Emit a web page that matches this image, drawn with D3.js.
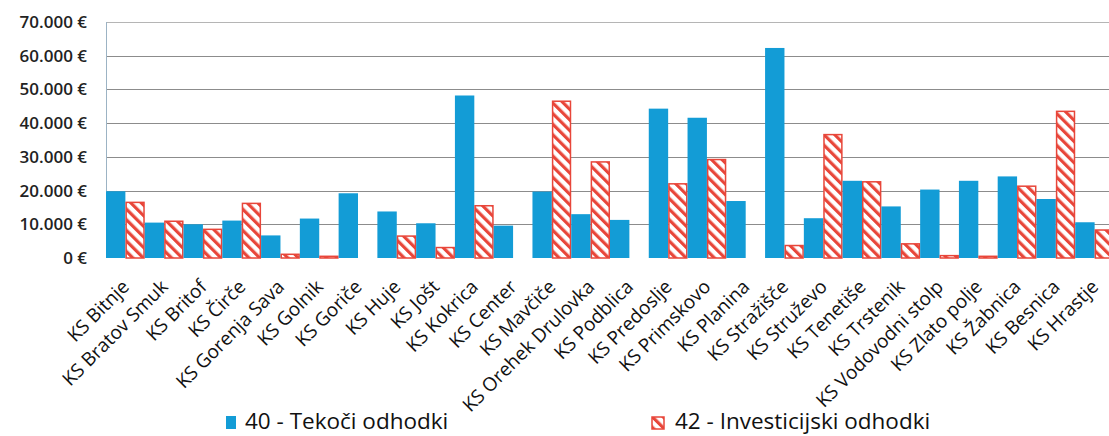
<!DOCTYPE html>
<html>
<head>
<meta charset="utf-8">
<script src="https://cdn.jsdelivr.net/npm/d3@7"></script>
<style>
  body { margin: 0; background: #fff; }
  svg { display: block; font-family: "Open Sans", sans-serif; }
</style>
</head>
<body>
<svg width="1109" height="436"></svg>
<script>
// categories (KS = krajevna skupnost)
var categories = ["KS Bitnje", "KS Bratov Smuk", "KS Britof", "KS Čirče", "KS Gorenja Sava",
    "KS Golnik", "KS Goriče", "KS Huje", "KS Jošt", "KS Kokrica", "KS Center", "KS Mavčiče",
    "KS Orehek Drulovka", "KS Podblica", "KS Predoslje", "KS Primskovo", "KS Planina",
    "KS Stražišče", "KS Struževo", "KS Tenetiše", "KS Trstenik", "KS Vodovodni stolp",
    "KS Zlato polje", "KS Žabnica", "KS Besnica", "KS Hrastje"];

// 40 - Tekoči odhodki
var tekoci = [19800, 10500, 10000, 11100, 6700, 11700, 19200, 13800, 10300, 48200, 9600, 19700,
    13000, 11300, 44300, 41600, 16900, 62300, 11800, 22900, 15300, 20300, 22900, 24200,
    17500, 10600];

// 42 - Investicijski odhodki
var investicijski = [16500, 10900, 8500, 16200, 1100, 500, 0, 6500, 3100, 15500, 0, 46500,
    28500, 0, 22000, 29200, 0, 3700, 36600, 22600, 4200, 700, 500, 21300, 43500, 8300];

var yTicks = [0, 10000, 20000, 30000, 40000, 50000, 60000, 70000];
var seriesNames = ["40 - Tekoči odhodki", "42 - Investicijski odhodki"];

var blue = "#139cd6", red = "#e8463a";

var svg = d3.select("svg");

var x = d3.scaleBand().domain(categories).range([106, 1114]).paddingInner(0).paddingOuter(0);
var xs = d3.scaleBand().domain([0, 1]).range([0, x.bandwidth()]).padding(0);
var y = d3.scaleLinear().domain([0, 70000]).range([258, 22]);

var defs = svg.append("defs");
var pat = defs.append("pattern")
    .attr("id", "hatch")
    .attr("patternUnits", "userSpaceOnUse")
    .attr("width", 7.5).attr("height", 7.5)
    .attr("patternTransform", "rotate(-45)");
pat.append("rect").attr("width", 7.5).attr("height", 7.5).attr("fill", "#fff");
pat.append("rect").attr("width", 3.2).attr("height", 7.5).attr("fill", red);

// gridlines
svg.append("g")
    .selectAll("line")
    .data(yTicks.slice(1))
    .join("line")
    .attr("x1", 106).attr("x2", 1109)
    .attr("y1", function (d) { return Math.round(y(d)) + 0.5; })
    .attr("y2", function (d) { return Math.round(y(d)) + 0.5; })
    .attr("stroke", function (d) { return d == 70000 ? "#b5b5b5" : "#8c8c8c"; })
    .attr("stroke-width", 1);

// left axis line
svg.append("line")
    .attr("x1", 106.5).attr("x2", 106.5)
    .attr("y1", y(70000)).attr("y2", y(0))
    .attr("stroke", "#9cb3c4");

// y labels
svg.append("g")
    .selectAll("text")
    .data(yTicks)
    .join("text")
    .attr("x", 87)
    .attr("y", function (d) { return y(d) + 6; })
    .attr("text-anchor", "end")
    .attr("font-size", 17)
    .attr("font-weight", 600)
    .attr("fill", "#222")
    .text(function (d) { return d3.format(",")(d).replace(/,/g, ".") + " €"; });

// bars
var groups = svg.append("g")
    .selectAll("g")
    .data(categories)
    .join("g")
    .attr("transform", function (d) { return "translate(" + x(d) + ",0)"; });

groups.append("rect")
    .attr("x", xs(0))
    .attr("width", xs.bandwidth())
    .attr("y", function (d, i) { return y(tekoci[i]); })
    .attr("height", function (d, i) { return y(0) - y(tekoci[i]); })
    .attr("fill", blue);

groups.filter(function (d, i) { return investicijski[i] > 0; })
    .append("rect")
    .attr("x", function () { return xs(1) + 0.75; })
    .attr("width", xs.bandwidth() - 1.5)
    .attr("y", function (d) { return y(investicijski[categories.indexOf(d)]); })
    .attr("height", function (d) { return y(0) - y(investicijski[categories.indexOf(d)]); })
    .attr("fill", "url(#hatch)")
    .attr("stroke", red)
    .attr("stroke-width", 1.5);

// x labels
svg.append("g")
    .selectAll("text")
    .data(categories)
    .join("text")
    .attr("text-anchor", "end")
    .attr("font-size", 19)
    .attr("fill", "#111")
    .attr("transform", function (d) {
        return "translate(" + (x(d) + x.bandwidth() / 2 + 5) + ",288) rotate(-45)";
    })
    .text(function (d) { return d; });

// legend
var leg = svg.append("g");
leg.append("rect").attr("x", 226).attr("y", 416).attr("width", 10).attr("height", 13).attr("fill", blue);
leg.append("text").attr("x", 245).attr("y", 429).attr("font-size", 22.5).attr("fill", "#111").text(seriesNames[0]);
leg.append("rect").attr("x", 652).attr("y", 417).attr("width", 12).attr("height", 12)
    .attr("fill", "url(#hatch)").attr("stroke", red).attr("stroke-width", 1.5);
leg.append("text").attr("x", 675).attr("y", 429).attr("font-size", 22.5).attr("fill", "#111").text(seriesNames[1]);
</script>
</body>
</html>
